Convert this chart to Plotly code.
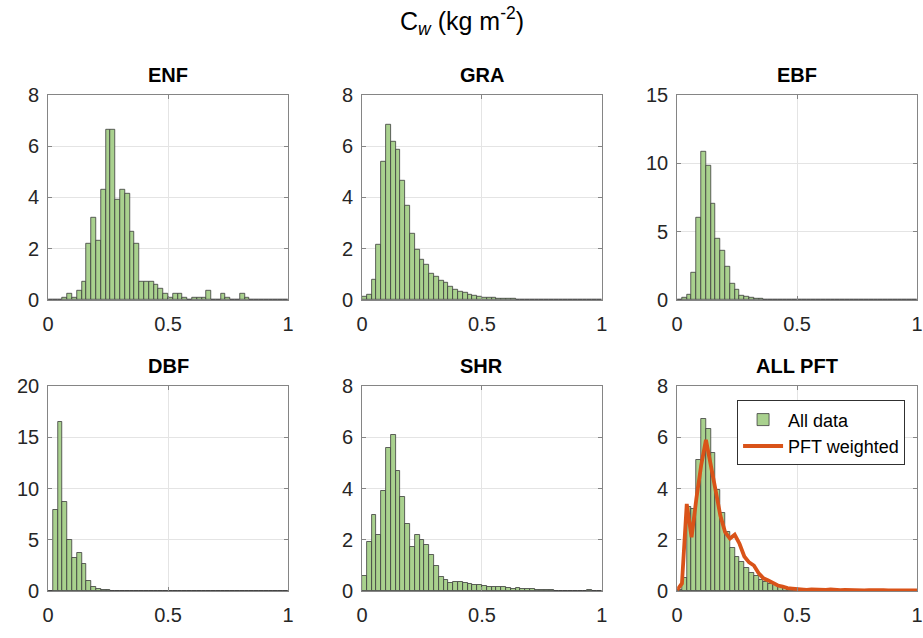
import plotly.graph_objects as go

# ---------------- data ----------------
BIN_WIDTH = 0.02
bin_left = [round(BIN_WIDTH * i, 2) for i in range(50)]          # 0.00 ... 0.98
line_x = [round(BIN_WIDTH * i, 2) for i in range(51)]            # 0.00 ... 1.00

panel_names = ["ENF", "GRA", "EBF", "DBF", "SHR", "ALL PFT"]
y_max = [8, 8, 15, 20, 8, 8]
y_ticks = [[0, 2, 4, 6, 8], [0, 2, 4, 6, 8], [0, 5, 10, 15],
           [0, 5, 10, 15, 20], [0, 2, 4, 6, 8], [0, 2, 4, 6, 8]]
x_ticks = [0, 0.5, 1]
x_ticklabels = ["0", "0.5", "1"]

enf = [0, 0, 0, 0.1, 0.23, 0.1, 0.35, 0.73, 2.19, 3.2,
       2.32, 4.3, 6.62, 6.62, 3.92, 4.3, 4.15, 2.67, 2.19, 0.73,
       0.73, 0.73, 0.6, 0.45, 0.23, 0.1, 0.23, 0.23, 0.1, 0,
       0.1, 0.1, 0.1, 0.35, 0, 0, 0.23, 0.1, 0, 0,
       0.23, 0.1, 0, 0, 0, 0, 0, 0, 0, 0]

gra = [0.12, 0.2, 0.8, 2.17, 5.4, 6.85, 6.18, 5.87, 4.64, 3.67,
       2.6, 1.94, 1.58, 1.37, 1.02, 0.9, 0.76, 0.66, 0.5, 0.41,
       0.34, 0.28, 0.21, 0.16, 0.13, 0.1, 0.08, 0.07, 0.06, 0.05,
       0.04, 0.035, 0.03, 0.03, 0.025, 0.02, 0.02, 0.015, 0.015, 0.01,
       0.01, 0.01, 0.01, 0.01, 0.01, 0.008, 0.008, 0.005, 0.005, 0.005]

ebf = [0.03, 0.14, 0.38, 2.0, 6.0, 10.8, 9.8, 7.06, 4.5, 3.6,
       2.42, 1.18, 0.75, 0.33, 0.24, 0.14, 0.1, 0.06, 0.04, 0.03,
       0.02, 0.02, 0.01, 0.01, 0.01, 0.01, 0.01, 0.01, 0.01, 0.005,
       0.005, 0, 0, 0, 0, 0, 0, 0, 0, 0,
       0, 0, 0, 0, 0, 0, 0, 0, 0, 0]

dbf = [0.05, 7.9, 16.5, 8.7, 4.95, 3.2, 3.7, 2.7, 1.0, 0.44,
       0.25, 0.15, 0.08, 0.05, 0.03, 0.02, 0.01, 0, 0, 0,
       0, 0, 0, 0, 0, 0, 0, 0, 0, 0,
       0, 0, 0, 0, 0, 0, 0, 0, 0, 0,
       0, 0, 0, 0, 0, 0, 0, 0, 0, 0]

shr = [0.58, 1.93, 2.96, 2.18, 3.9, 5.6, 6.08, 4.7, 3.69, 2.64,
       1.74, 2.18, 2.0, 1.8, 1.42, 0.98, 0.54, 0.44, 0.31, 0.35,
       0.38, 0.31, 0.29, 0.23, 0.26, 0.2, 0.18, 0.17, 0.15, 0.15,
       0.13, 0.1, 0.14, 0.07, 0.1, 0.07, 0.06, 0.05, 0.05, 0.04,
       0.03, 0.03, 0.02, 0.02, 0.02, 0.03, 0.02, 0.06, 0.03, 0.01]

all_data = [0.05, 0.5, 3.3, 3.2, 5.1, 6.7, 6.33, 5.4, 3.93, 3.05,
            2.3, 1.67, 1.35, 1.14, 0.92, 0.73, 0.58, 0.45, 0.35, 0.3,
            0.24, 0.19, 0.15, 0.12, 0.1, 0.08, 0.07, 0.06, 0.05, 0.04,
            0.035, 0.03, 0.03, 0.025, 0.02, 0.02, 0.02, 0.015, 0.015, 0.01,
            0.01, 0.01, 0.01, 0.01, 0.01, 0.008, 0.008, 0.005, 0.005, 0.005]

pft_weighted = [0.05, 0.3, 3.4, 2.1, 3.6, 4.9, 5.9, 5.0, 3.95, 2.95,
                2.3, 2.05, 2.2, 1.85, 1.35, 1.12, 1.0, 0.7, 0.5, 0.42,
                0.32, 0.22, 0.18, 0.12, 0.1, 0.08, 0.06, 0.05, 0.07, 0.06,
                0.06, 0.05, 0.07, 0.05, 0.04, 0.05, 0.04, 0.04, 0.05, 0.03,
                0.04, 0.05, 0.03, 0.04, 0.03, 0.03, 0.04, 0.03, 0.03, 0.02, 0.03]

panel_values = [enf, gra, ebf, dbf, shr, all_data]

# ---------------- styling ----------------
W, H = 923, 638
BAR_FILL = "#A9D18E"
BAR_EDGE = "#3c3c3c"
LINE_COLOR = "#D95319"
AXIS_COLOR = "#858585"
GRID_COLOR = "#e4e4e4"
TEXT_COLOR = "#262626"
FONT = "Liberation Sans, Arial, Helvetica, sans-serif"

col_left_px = [42.7, 360.7, 680.0]
panel_w_px = 243.0
row_top_px = [86.7, 388.3]
panel_h_px = 212.6

fig = go.Figure()
layout_axes = {}
annotations = []

bin_centers = [b + BIN_WIDTH / 2 for b in bin_left]

for i, name in enumerate(panel_names):
    r, c = divmod(i, 3)
    x0 = col_left_px[c] / W
    x1 = min((col_left_px[c] + panel_w_px) / W, 1.0)
    y1 = 1 - row_top_px[r] / H
    y0 = 1 - (row_top_px[r] + panel_h_px) / H
    xa = "x" if i == 0 else f"x{i+1}"
    ya = "y" if i == 0 else f"y{i+1}"
    xkey = "xaxis" if i == 0 else f"xaxis{i+1}"
    ykey = "yaxis" if i == 0 else f"yaxis{i+1}"

    fig.add_trace(go.Bar(
        x=bin_centers, y=panel_values[i], width=BIN_WIDTH,
        marker=dict(color=BAR_FILL, line=dict(color=BAR_EDGE, width=0.8)),
        xaxis=xa, yaxis=ya,
        name="All data", showlegend=(name == "ALL PFT"),
    ))
    if name == "ALL PFT":
        fig.add_trace(go.Scatter(
            x=line_x, y=pft_weighted, mode="lines",
            line=dict(color=LINE_COLOR, width=3.8),
            xaxis=xa, yaxis=ya, name="PFT weighted", showlegend=True,
        ))

    common = dict(
        showline=True, linecolor=AXIS_COLOR, linewidth=1, mirror="ticks",
        ticks="inside", ticklen=4, tickcolor=AXIS_COLOR, tickwidth=1,
        showgrid=True, gridcolor=GRID_COLOR, gridwidth=1, zeroline=False,
        tickfont=dict(family=FONT, size=20, color=TEXT_COLOR),
        ticklabeloverflow="allow",
        fixedrange=True,
    )
    layout_axes[xkey] = dict(
        domain=[x0, x1], anchor=ya, range=[0, 1],
        tickmode="array", tickvals=x_ticks, ticktext=x_ticklabels,
        ticklabelstandoff=6,
        **common)
    layout_axes[ykey] = dict(
        domain=[y0, y1], anchor=xa, range=[0, y_max[i]],
        tickmode="array", tickvals=y_ticks[i],
        ticktext=[str(t) for t in y_ticks[i]],
        ticklabelstandoff=4,
        **common)

    annotations.append(dict(
        text=f"<b>{name}</b>", x=(x0 + (col_left_px[c] + panel_w_px) / W) / 2,
        y=y1, xref="paper", yref="paper", xanchor="center", yanchor="bottom",
        yshift=7, showarrow=False,
        font=dict(family=FONT, size=20, color="#000000"),
    ))

annotations.append(dict(
    text="C<sub><i>w</i></sub> (kg m<sup>-2</sup>)",
    x=461.5 / W, y=1 - 10 / H, xref="paper", yref="paper",
    xanchor="center", yanchor="middle", showarrow=False,
    font=dict(family=FONT, size=25, color="#000000"),
))

fig.update_layout(
    width=W, height=H,
    margin=dict(l=0, r=0, t=0, b=0),
    paper_bgcolor="white", plot_bgcolor="white",
    bargap=0, barmode="overlay",
    showlegend=True,
    legend=dict(
        x=740.7 / W, y=1 - 403.3 / H, xanchor="left", yanchor="top",
        bgcolor="white", bordercolor="#303030", borderwidth=1,
        font=dict(family=FONT, size=18, color="#000000"),
        tracegroupgap=0, itemwidth=40,
    ),
    annotations=annotations,
    **layout_axes,
)

fig.write_html("out.html")
